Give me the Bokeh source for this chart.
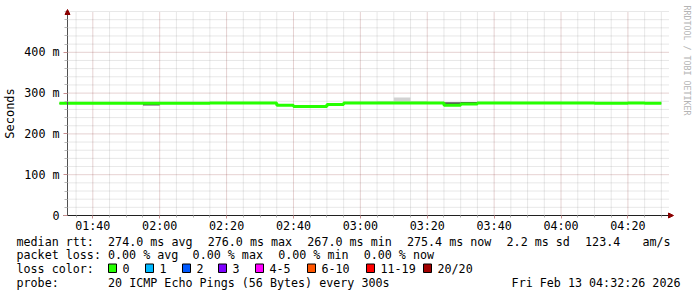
import math
import re
from bokeh.plotting import figure
from bokeh.models import Range1d, FixedTicker, Arrow, NormalHead
from bokeh.core.properties import value
from bokeh.embed import file_html
from bokeh.resources import INLINE

# ---------------- data ----------------
view_start = "01:32:26"
view_end = "04:32:26"
step_minutes = 5

interval_start = ["01:30", "01:35", "01:40", "01:45", "01:50", "01:55",
                  "02:00", "02:05", "02:10", "02:15", "02:20", "02:25",
                  "02:30", "02:35", "02:40", "02:45", "02:50", "02:55",
                  "03:00", "03:05", "03:10", "03:15", "03:20", "03:25",
                  "03:30", "03:35", "03:40", "03:45", "03:50", "03:55",
                  "04:00", "04:05", "04:10", "04:15", "04:20", "04:25"]
median_ms = [275, 275, 275, 275, 275, 275,
             275, 275, 275, 276, 276, 276,
             276, 270, 267, 267, 272, 276,
             276, 276, 276, 276, 276, 270,
             273, 276, 276, 276, 276, 276,
             276, 276, 275, 275, 276, 275.4]
# dark smoke (inner pings)
dark_lo = [274, 274, 274, 274, 274, 269.5,
           274, 274, 274, 275, 275, 275,
           275, 269, 266, 266, 271, 275,
           275, 275, 275, 275, 275, 269,
           272, 275, 275, 275, 275, 275,
           275, 275, 274, 274, 275, 274.5]
dark_hi = [276, 276, 276, 276, 276, 276,
           276, 276, 276, 277, 277, 277,
           277, 271, 268, 268, 273, 277,
           277, 277, 277, 277, 277, 277.5,
           278, 277, 277, 277, 277, 277,
           277, 277, 276, 276, 277, 276.5]
# light smoke (outer pings)
light_lo = [274, 274, 274, 274, 274, 274,
            274, 274, 274, 275, 275, 275,
            275, 269, 266, 266, 271, 275,
            275, 275, 275, 275, 275, 269,
            272, 275, 275, 275, 275, 275,
            275, 275, 274, 274, 275, 274.5]
light_hi = [276, 276, 276, 276, 276, 276,
            276, 276, 276, 277, 277, 277,
            277, 271, 268, 268, 273, 279,
            279, 280, 289, 280, 277, 271,
            274, 277, 277, 277, 277, 277,
            277, 277, 276, 276, 277, 276.5]

xtick_labels = ["01:40", "02:00", "02:20", "02:40", "03:00",
                "03:20", "03:40", "04:00", "04:20"]
ytick_values = [0, 100, 200, 300, 400]
ytick_labels = ["0", "100 m", "200 m", "300 m", "400 m"]
y_max = 500

stats_line = "median rtt:  274.0 ms avg  276.0 ms max  267.0 ms min  275.4 ms now  2.2 ms sd  123.4   am/s"
loss_line = "packet loss: 0.00 % avg  0.00 % max  0.00 % min  0.00 % now"
loss_title = "loss color:"
loss_labels = ["0", "1", "2", "3", "4-5", "6-10", "11-19", "20/20"]
loss_colors = ["#26ff00", "#00b8ff", "#0059ff", "#7e00ff",
               "#ff00ff", "#ff5500", "#ff0000", "#a10000"]
probe_line = "probe:       20 ICMP Echo Pings (56 Bytes) every 300s"
stamp_text = "Fri Feb 13 04:32:26 2026"
watermark = "RRDTOOL / TOBI OETIKER"


def tmin(s):
    parts = [float(v) for v in s.split(":")]
    while len(parts) < 3:
        parts.append(0.0)
    return parts[0] * 60 + parts[1] + parts[2] / 60.0


MONO = "DejaVu Sans Mono"
FS_PX = 11.7
FS = "%.1fpx" % FS_PX
CW = FS_PX * 0.6021  # monospace advance

# layout (pixels of the 697x297 canvas)
W, H = 697, 297
FL, FR, FT, FB = 67, 669, 11, 215      # chart area
TX = 16                                 # left edge of text block
ITEM_GAP = 1.0                          # extra px between legend items
STAMP_RIGHT = 680
ROW_Y = [241, 254.5, 268, 282]
BOX_X = [108, 145, 182, 218, 255, 307, 366, 423]

x0, x1 = tmin(view_start), tmin(view_end)
starts = [tmin(s) for s in interval_start]
ends = [s + step_minutes for s in starts]

px_per_min = (FR - FL) / (x1 - x0)
px_per_ms = (FB - FT) / y_max


def dx(px):
    return x0 + (px - FL) / px_per_min


def dy(py):
    return (FB - py) / px_per_ms


# ---------------- figure: frame covers the whole canvas ----------------
p = figure(width=W, height=H, x_range=Range1d(dx(0), dx(W)), y_range=Range1d(dy(H), dy(0)),
           output_backend="svg", toolbar_location=None,
           background_fill_color="white", border_fill_color="white",
           outline_line_color=None)
p.min_border = 0
p.title.visible = False
p.xgrid.visible = False
p.ygrid.visible = False

# ---- grid (dotted) ----
xt_major = [tmin(t) for t in xtick_labels]
xt_minor = []
m = math.ceil(x0 / step_minutes) * step_minutes
while m <= x1:
    if all(abs(m - t) > 1e-6 for t in xt_major):
        xt_minor.append(m)
    m += step_minutes
yt_minor = [v for v in range(0, y_max + 1, 20) if v not in ytick_values]
ygrid_major = [v for v in ytick_values if v > 0]

MINOR_C, MAJOR_C = "#8c8c8c", "#821e1e"
p.segment(x0=xt_minor, y0=[0] * len(xt_minor), x1=xt_minor, y1=[y_max] * len(xt_minor),
          line_color=MINOR_C, line_alpha=0.4, line_dash="1 1", line_width=1)
p.segment(x0=[x0] * len(yt_minor), y0=yt_minor, x1=[x1] * len(yt_minor), y1=yt_minor,
          line_color=MINOR_C, line_alpha=0.4, line_dash="1 1", line_width=1)
p.segment(x0=xt_major, y0=[0] * len(xt_major), x1=xt_major, y1=[y_max] * len(xt_major),
          line_color=MAJOR_C, line_alpha=0.4, line_dash="1 1", line_width=1)
p.segment(x0=[x0] * len(ygrid_major), y0=ygrid_major, x1=[x1] * len(ygrid_major),
          y1=ygrid_major, line_color=MAJOR_C, line_alpha=0.4, line_dash="1 1", line_width=1)

# ---- smoke + median ----
p.quad(left=starts, right=ends, bottom=light_lo, top=light_hi,
       fill_color="#d2d2d2", line_color=None)
p.quad(left=starts, right=ends, bottom=dark_lo, top=dark_hi,
       fill_color="#505050", line_color=None)
p.step(x=starts + [ends[-1]], y=median_ms + [median_ms[-1]], mode="after",
       line_color="#26ff00", line_width=3)

# ---- axes (drawn at fixed data locations inside the frame) ----
xa = p.xaxis[0]
xa.fixed_location = 0
xa.bounds = (dx(FL - 4), x1)
xa.ticker = FixedTicker(ticks=xt_major, minor_ticks=xt_minor)
xa.major_label_overrides = {t: lab for t, lab in zip(xt_major, xtick_labels)}
xa.major_label_text_font = MONO
xa.major_label_text_font_size = FS
xa.major_label_text_color = "#000000"
xa.major_label_standoff = 0
xa.major_tick_out = 3
xa.major_tick_in = 0
xa.minor_tick_out = 2
xa.minor_tick_in = 0
xa.major_tick_line_color = "#c89090"
xa.minor_tick_line_color = "#b0b0b0"
xa.axis_line_color = "#202020"

ya = p.yaxis[0]
ya.fixed_location = x0
ya.bounds = (0, y_max)
ya.ticker = FixedTicker(ticks=ytick_values, minor_ticks=yt_minor)
ya.major_label_overrides = {v: lab for v, lab in zip(ytick_values, ytick_labels)}
ya.major_label_text_font = MONO
ya.major_label_text_font_size = FS
ya.major_label_text_color = "#000000"
ya.major_label_standoff = 4
ya.major_tick_out = 4
ya.major_tick_in = 0
ya.minor_tick_out = 3
ya.minor_tick_in = 0
ya.major_tick_line_color = "#c89090"
ya.minor_tick_line_color = "#b8b8b8"
ya.axis_line_color = "#505050"
ya.axis_label = "Seconds"
ya.axis_label_text_font = MONO
ya.axis_label_text_font_size = "12px"
ya.axis_label_text_font_style = "normal"
ya.axis_label_text_color = "#000000"
ya.axis_label_standoff = 4

# ---- axis arrows ----
p.add_layout(Arrow(end=NormalHead(size=5, fill_color="#8b0000", line_color="#8b0000"),
                   x_start=x1 - 1, y_start=0, x_end=dx(FR + 4), y_end=0,
                   line_color="#202020", line_width=1))
p.add_layout(Arrow(end=NormalHead(size=5, fill_color="#8b0000", line_color="#8b0000"),
                   x_start=x0, y_start=y_max - 5, x_end=x0, y_end=dy(FT - 2),
                   line_color="#505050", line_width=1))

# ---- watermark ----
p.text(x=[dx(686)], y=[dy(5)], text=[watermark], angle=-math.pi / 2,
       text_font=value(MONO), text_font_size="8.3px", text_align="left",
       text_baseline="middle", text_color="#b4b4b4")


# ---- text block ----
def add_line(text, py):
    xs, ys, ts = [], [], []
    for i, mt in enumerate(re.finditer(r"\S+(?: \S+)*", text)):
        xs.append(dx(TX + mt.start() * CW + max(0, i - 1) * ITEM_GAP))
        ys.append(dy(py))
        ts.append(mt.group(0))
    p.text(x=xs, y=ys, text=ts, text_font=value(MONO), text_font_size=FS,
           text_baseline="middle", text_align="left", text_color="#000000")


add_line(stats_line, ROW_Y[0])
add_line(loss_line, ROW_Y[1])
add_line(loss_title, ROW_Y[2])
add_line(probe_line, ROW_Y[3])
p.text(x=[dx(STAMP_RIGHT)], y=[dy(ROW_Y[3])], text=[stamp_text], text_font=value(MONO),
       text_font_size=FS, text_baseline="middle", text_align="right", text_color="#000000")

p.quad(left=[dx(b) for b in BOX_X], right=[dx(b + 8) for b in BOX_X],
       bottom=[dy(ROW_Y[2] + 4)] * len(BOX_X), top=[dy(ROW_Y[2] - 4.5)] * len(BOX_X),
       fill_color=loss_colors, line_color="#000000", line_width=1)
p.text(x=[dx(b + 14) for b in BOX_X], y=[dy(ROW_Y[2])] * len(BOX_X), text=loss_labels,
       text_font=value(MONO), text_font_size=FS, text_baseline="middle",
       text_align="left", text_color="#000000")

open("out.html", "w").write(file_html(p, INLINE))
